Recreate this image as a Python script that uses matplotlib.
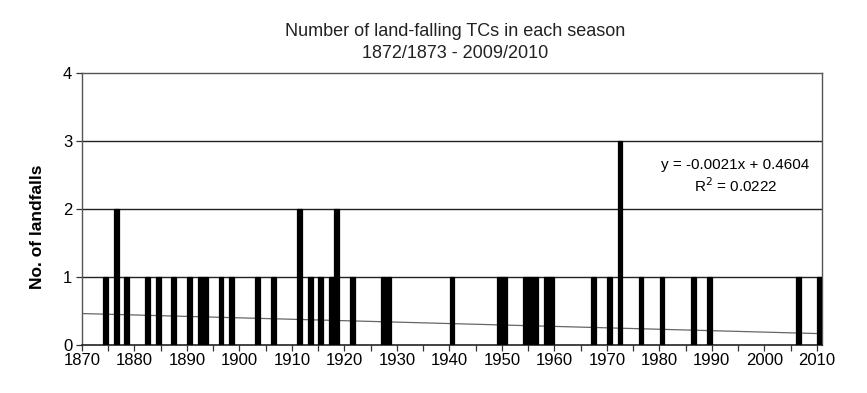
import numpy as np
import matplotlib.pyplot as plt
from matplotlib.ticker import MultipleLocator

plt.rcParams['font.family'] = ['Liberation Sans', 'DejaVu Sans']

# Seasons with at least one landfall (season start year) and their counts
years = [1874, 1876, 1878, 1882, 1884, 1887, 1890, 1892, 1893, 1896, 1898,
         1903, 1906, 1911, 1913, 1915, 1917, 1918, 1921, 1927, 1928, 1940,
         1949, 1950, 1954, 1955, 1956, 1958, 1959, 1967, 1970, 1972, 1976,
         1980, 1986, 1989, 2006, 2010]
counts = [1, 2, 1, 1, 1, 1, 1, 1, 1, 1, 1,
          1, 1, 2, 1, 1, 1, 2, 1, 1, 1, 1,
          1, 1, 1, 1, 1, 1, 1, 1, 1, 3, 1,
          1, 1, 1, 1, 1]

# linear trend as given in the chart
slope = -0.0021
intercept = 0.4604
r2 = 0.0222

fig = plt.figure(figsize=(8.67, 3.93), dpi=100)
ax = fig.add_axes([82 / 867, 1 - 345 / 393, 740 / 867, 272 / 393])

# trend line over the season index
trend_years = np.arange(1870, 2012)
trend_idx = trend_years - 1871
ax.plot(trend_years, slope * trend_idx + intercept, color='#666666', lw=0.9, zorder=2)

ax.bar(np.array(years) + 0.04, counts, width=0.92, align='edge', color='black',
       edgecolor='black', linewidth=0.9, zorder=3)

ax.set_xlim(1870, 2011)
ax.set_ylim(0, 4)

for y in [1, 2, 3]:
    ax.axhline(y, color='#222222', lw=1.0, zorder=1)

ax.xaxis.set_major_locator(MultipleLocator(10))
ax.xaxis.set_minor_locator(MultipleLocator(5))
ax.yaxis.set_major_locator(MultipleLocator(1))
ax.tick_params(axis='both', which='both', direction='out', length=4, width=0.9, color='#333333')
ax.tick_params(axis='x', labelsize=12, pad=2)
ax.tick_params(axis='y', labelsize=12, pad=3)

for side in ['top', 'right', 'left']:
    ax.spines[side].set_color('#555555')
    ax.spines[side].set_linewidth(1.0)
ax.spines['bottom'].set_color('#222222')
ax.spines['bottom'].set_linewidth(1.2)

ax.set_ylabel('No. of landfalls', fontsize=12.5, fontweight='bold')
ax.yaxis.set_label_coords(-37 / 740, (345 - 227) / 272)

fig.text(455 / 867, 1 - 31 / 393, 'Number of land-falling TCs in each season',
         ha='center', va='center', fontsize=13, color='#222222')
fig.text(455 / 867, 1 - 53 / 393, '1872/1873 - 2009/2010',
         ha='center', va='center', fontsize=13, color='#222222')

ax.text(1994.5, 2.65, 'y = -0.0021x + 0.4604', ha='center', va='center', fontsize=11)
ax.text(1994.5, 2.34, 'R$^2$ = %.4f' % r2, ha='center', va='center', fontsize=11)

plt.savefig('out.png', dpi=100)
